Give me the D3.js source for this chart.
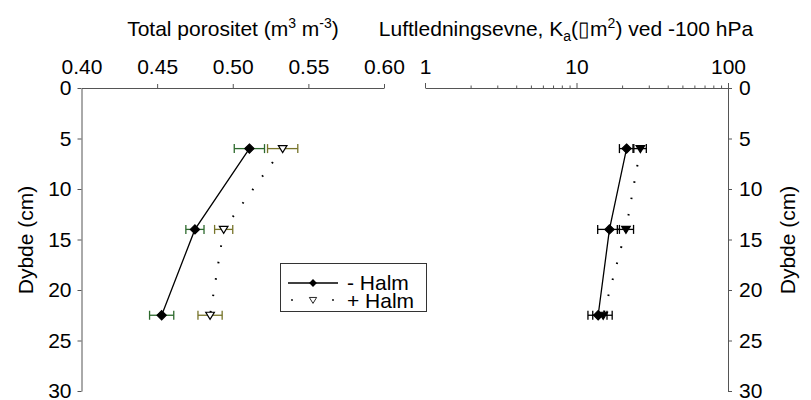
<!DOCTYPE html>
<html>
<head>
<meta charset="utf-8">
<script src="https://cdn.jsdelivr.net/npm/d3@7"></script>
<style>
  body { margin: 0; background: #fff; }
  text { font-family: "Liberation Sans", Arial, sans-serif; fill: #000; }
</style>
</head>
<body>
<script>

var width = 811, height = 400

/******** Data *********/

var depth = [6, 14, 22.5]

var poro_minus = [0.511, 0.475, 0.453]
var poro_minus_err = [0.010, 0.006, 0.008]
var poro_plus = [0.533, 0.494, 0.485]
var poro_plus_err = [0.010, 0.006, 0.008]

var ka_minus = [21.4, 16.5, 13.9]
var ka_minus_err = [2.2, 2.7, 2.0]
var ka_plus = [26.4, 21.2, 15.0]
var ka_plus_err = [2.5, 2.6, 2.2]

var poro_ticks = [0.40, 0.45, 0.50, 0.55, 0.60]
var ka_major = [1, 10, 100]
var depth_ticks = [0, 5, 10, 15, 20, 25, 30]

var legend_labels = ["- Halm", "+ Halm"]

/******** Scales *********/

var y = d3.scaleLinear().domain([0, 30]).range([88, 391])
var x_poro = d3.scaleLinear().domain([0.40, 0.60]).range([81.5, 384])
var x_ka = d3.scaleLog().domain([1, 100]).range([425, 728])

var svg = d3.select("body")
  .append("svg")
    .attr("width", width)
    .attr("height", height)

var axis_color = "#555"
var font_size = "21px"
var sup_size = "14px"

/******** Axes *********/

var poro_axis = d3.axisTop(x_poro)
  .tickValues(poro_ticks)
  .tickFormat(d3.format(".2f"))
  .tickSize(4)
  .tickSizeOuter(0)
  .tickPadding(10)

var ka_ticks = []
for (var dec = 1; dec < 100; dec *= 10) {
  for (var k = 1; k < 10; k++) ka_ticks.push(dec * k)
}
ka_ticks.push(100)

var ka_axis = d3.axisTop(x_ka)
  .tickValues(ka_ticks)
  .tickFormat(function(d){ return ka_major.indexOf(d) >= 0 ? d : "" })
  .tickSize(5)
  .tickSizeOuter(0)
  .tickPadding(9)

var depth_axis_left = d3.axisLeft(y)
  .tickValues(depth_ticks)
  .tickSize(4)
  .tickSizeOuter(0)
  .tickPadding(6)

var depth_axis_right = d3.axisRight(y)
  .tickValues(depth_ticks)
  .tickSize(4)
  .tickSizeOuter(0)
  .tickPadding(7)

function style_axis(g){
  g.selectAll("path, line").attr("stroke", axis_color)
  g.selectAll("text")
    .attr("font-size", font_size)
    .attr("font-family", "Liberation Sans, Arial, sans-serif")
    .attr("fill", "#000")
}

svg.append("g")
  .attr("transform", "translate(0," + y(0) + ")")
  .call(poro_axis)
  .call(style_axis)
  .call(function(g){
    g.selectAll(".tick").filter(function(d){ return d === 0.40 }).select("line").remove()
  })

svg.append("g")
  .attr("transform", "translate(0," + y(0) + ")")
  .call(ka_axis)
  .call(style_axis)
  .call(function(g){
    g.selectAll(".tick").filter(function(d){ return ka_major.indexOf(d) < 0 })
      .select("line").attr("y2", -2.5)
  })

svg.append("g")
  .attr("transform", "translate(" + x_poro(0.40) + ",0)")
  .call(depth_axis_left)
  .call(style_axis)

svg.append("g")
  .attr("transform", "translate(" + x_ka(100) + ",0)")
  .call(depth_axis_right)
  .call(style_axis)

/******** Axis titles *********/

var t1 = svg.append("text")
  .attr("x", 233)
  .attr("y", 36)
  .attr("text-anchor", "middle")
  .attr("font-size", font_size)
t1.append("tspan").text("Total porositet (m")
t1.append("tspan").attr("font-size", sup_size).attr("dy", -8).text("3")
t1.append("tspan").attr("dy", 8).text(" m")
t1.append("tspan").attr("font-size", sup_size).attr("dy", -8).text("-3")
t1.append("tspan").attr("dy", 8).text(")")

var t2 = svg.append("text")
  .attr("x", 566)
  .attr("y", 36)
  .attr("text-anchor", "middle")
  .attr("font-size", font_size)
t2.append("tspan").text("Luftledningsevne, K")
t2.append("tspan").attr("font-size", sup_size).attr("dy", 5).text("a")
t2.append("tspan").attr("dy", -5).text("(\u25AFm")
t2.append("tspan").attr("font-size", sup_size).attr("dy", -8).text("2")
t2.append("tspan").attr("dy", 8).text(") ved -100 hPa")

svg.append("text")
  .attr("transform", "translate(33,240) rotate(-90)")
  .attr("text-anchor", "middle")
  .attr("font-size", font_size)
  .text("Dybde (cm)")

svg.append("text")
  .attr("transform", "translate(795,240) rotate(-90)")
  .attr("text-anchor", "middle")
  .attr("font-size", font_size)
  .text("Dybde (cm)")

/******** Series *********/

var diamond = "M0,-4.6L4.6,0L0,4.6L-4.6,0Z"
var triangle = "M-4.3,-3L4.3,-3L0,4Z"

function draw_series(xs, vals, errs, opts){
  var pts = vals.map(function(v, i){ return { v: v, e: errs[i], d: depth[i] } })

  var line = d3.line()
    .x(function(d){ return xs(d.v) })
    .y(function(d){ return y(d.d) })

  svg.append("path")
    .attr("d", line(pts))
    .attr("fill", "none")
    .attr("stroke", "#000")
    .attr("stroke-width", opts.dotted ? 2 : 1.3)
    .attr("stroke-dasharray", opts.dotted ? "1.6,15" : null)

  var eb = svg.append("g").attr("stroke", opts.err_color).attr("stroke-width", 1.3)
  pts.forEach(function(p){
    var x0 = xs(p.v - p.e), x1 = xs(p.v + p.e), yy = y(p.d)
    eb.append("line").attr("x1", x0).attr("x2", x1).attr("y1", yy).attr("y2", yy)
    eb.append("line").attr("x1", x0).attr("x2", x0).attr("y1", yy - 4.5).attr("y2", yy + 4.5)
    eb.append("line").attr("x1", x1).attr("x2", x1).attr("y1", yy - 4.5).attr("y2", yy + 4.5)
  })

  svg.selectAll(null)
    .data(pts)
    .enter()
    .append("path")
      .attr("d", opts.shape)
      .attr("transform", function(d){ return "translate(" + xs(d.v) + "," + y(d.d) + ")" })
      .attr("fill", opts.fill)
      .attr("stroke", "#000")
      .attr("stroke-width", 1.2)
}

draw_series(x_poro, poro_plus, poro_plus_err, { dotted: true, err_color: "#77742a", shape: triangle, fill: "#fff" })
draw_series(x_poro, poro_minus, poro_minus_err, { dotted: false, err_color: "#2d6a2d", shape: diamond, fill: "#000" })
draw_series(x_ka, ka_plus, ka_plus_err, { dotted: true, err_color: "#000", shape: triangle, fill: "#000" })
draw_series(x_ka, ka_minus, ka_minus_err, { dotted: false, err_color: "#000", shape: diamond, fill: "#000" })

/******** Legend *********/

var legend = svg.append("g")

legend.append("rect")
  .attr("x", 280.5)
  .attr("y", 263.5)
  .attr("width", 146)
  .attr("height", 48)
  .attr("fill", "#fff")
  .attr("stroke", "#333")

legend.append("line")
  .attr("x1", 288).attr("x2", 338).attr("y1", 283).attr("y2", 283)
  .attr("stroke", "#000").attr("stroke-width", 1.3)
legend.append("path").attr("d", diamond).attr("transform", "translate(313,283) scale(0.85)")
  .attr("fill", "#000")

legend.append("circle").attr("cx", 292).attr("cy", 300).attr("r", 0.9).attr("fill", "#000")
legend.append("circle").attr("cx", 333).attr("cy", 300).attr("r", 0.9).attr("fill", "#000")
legend.append("path").attr("d", triangle).attr("transform", "translate(313,300) scale(0.85)")
  .attr("fill", "#fff").attr("stroke", "#000").attr("stroke-width", 1)

legend.selectAll("text.leg")
  .data(legend_labels)
  .enter()
  .append("text")
    .attr("class", "leg")
    .attr("x", 347)
    .attr("y", function(d, i){ return 283 + i * 18 })
    .attr("dy", "0.35em")
    .attr("font-size", font_size)
    .text(function(d){ return d })

</script>
</body>
</html>
